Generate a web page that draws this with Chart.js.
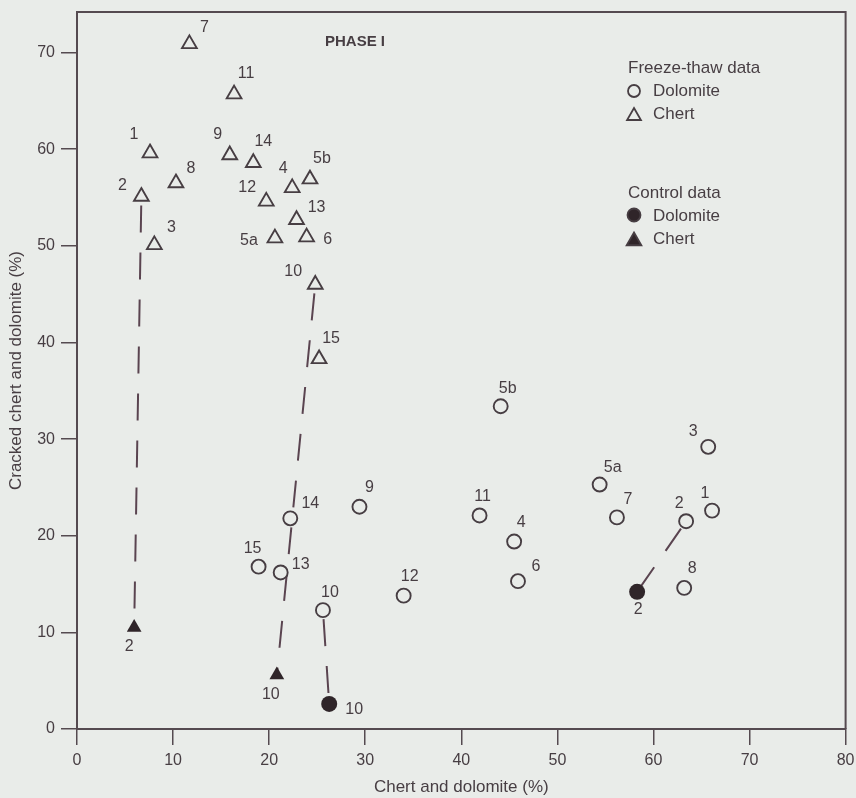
<!DOCTYPE html>
<html>
<head>
<script src="https://cdn.jsdelivr.net/npm/chart.js@4.4.0/dist/chart.umd.min.js"></script>
<style>
    body {
        margin: 0;
        background: #e9ece9;
    }
    .chart-box {
        position: relative;
        width: 856px;
        height: 798px;
    }
</style>
</head>
<body>
<div class="chart-box"><canvas id="phaseChart"></canvas></div>
<script>
// freeze-thaw data, dolomite (open circles)
const dolomiteLabels = ['1', '2', '3', '4', '5a', '5b', '6', '7', '8', '9', '10', '11', '12', '13', '14', '15'];
const dolomiteX = [66.1, 63.4, 65.7, 45.5, 54.4, 44.1, 45.9, 56.2, 63.2, 29.4, 25.6, 41.9, 34.0, 21.2, 22.2, 18.9];
const dolomiteY = [22.6, 21.5, 29.2, 19.4, 25.3, 33.4, 15.3, 21.9, 14.6, 23.0, 12.3, 22.1, 13.8, 16.2, 21.8, 16.8];

// freeze-thaw data, chert (open triangles)
const chertLabels = ['1', '2', '3', '4', '5a', '5b', '6', '7', '8', '9', '10', '11', '12', '13', '14', '15'];
const chertX = [7.6, 6.7, 8.05, 22.4, 20.6, 24.25, 23.9, 11.7, 10.3, 15.9, 24.8, 16.35, 19.7, 22.85, 18.35, 25.2];
const chertY = [59.6, 55.1, 50.1, 56.0, 50.8, 56.9, 50.9, 70.9, 56.5, 59.4, 46.0, 65.7, 54.6, 52.7, 58.6, 38.3];

// control data
const ctrlDolomiteLabels = ['2', '10'];
const ctrlDolomiteX = [58.3, 26.25];
const ctrlDolomiteY = [14.2, 2.6];
const ctrlChertLabels = ['2', '10'];
const ctrlChertX = [5.95, 20.8];
const ctrlChertY = [10.5, 5.6];

// axes
const xTicks = [0, 10, 20, 30, 40, 50, 60, 70, 80];
const yTicks = [0, 10, 20, 30, 40, 50, 60, 70];

// label placement (pixels from the marker)
const dolomiteLabelPos = [[-7, -17], [-7, -18], [-15, -15], [7, -19], [13, -17], [7, -18], [18, -15], [11, -18],
    [8, -19], [10, -19], [7, -18], [3, -19], [6, -19], [20, -8], [20, -15], [-6, -18]];
const chertLabelPos = [[-16, -18], [-19, -11], [17, -17], [-9, -19], [-26, 2], [12, -21], [21, 2], [15, -16],
    [15, -14], [-12, -20], [-22, -13], [12, -21], [-19, -14], [20, -12], [10, -21], [12, -20]];
const ctrlDolomiteLabelPos = [[1, 18], [25, 6]];
const ctrlChertLabelPos = [[-5, 19], [-6, 20]];

const BG = '#e9ece9';
const INK = '#473e43';
const LINE = '#5a4450';
const FONT = "'Liberation Sans', Arial, sans-serif";

const toPoints = (xs, ys) => xs.map((x, i) => ({ x: x, y: ys[i] }));

// dashed links from each freeze-thaw sample to its control sample
function linkDatasets() {
    const links = [];
    ctrlChertLabels.forEach((lab, i) => {
        const j = chertLabels.indexOf(lab);
        links.push([{ x: chertX[j], y: chertY[j] }, { x: ctrlChertX[i], y: ctrlChertY[i] }]);
    });
    ctrlDolomiteLabels.forEach((lab, i) => {
        const j = dolomiteLabels.indexOf(lab);
        links.push([{ x: dolomiteX[j], y: dolomiteY[j] }, { x: ctrlDolomiteX[i], y: ctrlDolomiteY[i] }]);
    });
    return links.map(pts => ({
        type: 'line',
        data: pts,
        showLine: true,
        borderColor: LINE,
        borderWidth: 2,
        borderDash: [27, 20],
        borderDashOffset: 38,
        pointRadius: 0,
        order: 10
    }));
}

const pointLabels = {
    id: 'pointLabels',
    afterDatasetsDraw(chart) {
        const ctx = chart.ctx;
        ctx.save();
        ctx.font = '16px ' + FONT;
        ctx.fillStyle = INK;
        ctx.textAlign = 'center';
        ctx.textBaseline = 'middle';
        chart.data.datasets.forEach((ds, di) => {
            if (!ds.labels) return;
            const meta = chart.getDatasetMeta(di);
            meta.data.forEach((el, i) => {
                const off = ds.labelPos[i];
                ctx.fillText(ds.labels[i], el.x + off[0], el.y + off[1]);
            });
        });
        ctx.restore();
    }
};

const frameAndKey = {
    id: 'frameAndKey',
    afterDraw(chart) {
        const ctx = chart.ctx;
        const a = chart.chartArea;
        ctx.save();
        // top and right sides of the box
        ctx.strokeStyle = '#554a50';
        ctx.lineWidth = 2;
        ctx.beginPath();
        ctx.moveTo(a.left, a.top);
        ctx.lineTo(a.right, a.top);
        ctx.lineTo(a.right, a.bottom);
        ctx.stroke();

        ctx.fillStyle = INK;
        ctx.textBaseline = 'middle';
        ctx.font = 'bold 15px ' + FONT;
        ctx.textAlign = 'center';
        ctx.fillText('PHASE I', 355, 42);

        ctx.textAlign = 'left';
        ctx.font = '17px ' + FONT;
        ctx.fillText('Freeze-thaw data', 628, 68);
        ctx.fillText('Dolomite', 653, 91);
        ctx.fillText('Chert', 653, 114);
        ctx.fillText('Control data', 628, 193);
        ctx.fillText('Dolomite', 653, 216);
        ctx.fillText('Chert', 653, 239);

        const key = [
            ['circle', 6, 91, false], ['triangle', 8, 114, false],
            ['circle', 6.5, 215, true], ['triangle', 8.5, 239, true]
        ];
        key.forEach(k => {
            ctx.lineWidth = 1.8;
            ctx.strokeStyle = INK;
            ctx.fillStyle = k[3] ? '#2f2529' : BG;
            Chart.helpers.drawPoint(ctx, { pointStyle: k[0], radius: k[1], rotation: 0, borderWidth: 1.8 }, 634, k[2] + (k[0] === 'triangle' ? 2 : 0));
        });
        ctx.restore();
    }
};

new Chart(document.getElementById('phaseChart'), {
    type: 'scatter',
    data: {
        datasets: [
            {
                data: toPoints(dolomiteX, dolomiteY),
                labels: dolomiteLabels,
                labelPos: dolomiteLabelPos,
                pointStyle: 'circle',
                pointRadius: 7,
                borderWidth: 1.9,
                borderColor: INK,
                backgroundColor: BG,
                order: 1
            },
            {
                data: toPoints(chertX, chertY),
                labels: chertLabels,
                labelPos: chertLabelPos,
                pointStyle: 'triangle',
                pointRadius: 8.5,
                borderWidth: 1.9,
                borderColor: INK,
                backgroundColor: BG,
                order: 1
            },
            {
                data: toPoints(ctrlDolomiteX, ctrlDolomiteY),
                labels: ctrlDolomiteLabels,
                labelPos: ctrlDolomiteLabelPos,
                pointStyle: 'circle',
                pointRadius: 8,
                borderWidth: 0,
                backgroundColor: '#2f2529',
                order: 0
            },
            {
                data: toPoints(ctrlChertX, ctrlChertY),
                labels: ctrlChertLabels,
                labelPos: ctrlChertLabelPos,
                pointStyle: 'triangle',
                pointRadius: 8.5,
                borderWidth: 0,
                backgroundColor: '#2f2529',
                order: 0
            },
            ...linkDatasets()
        ]
    },
    options: {
        responsive: true,
        maintainAspectRatio: false,
        animation: false,
        layout: { padding: { top: 12, right: 10, left: 0, bottom: 0 } },
        plugins: {
            legend: { display: false },
            tooltip: { enabled: false }
        },
        scales: {
            x: {
                type: 'linear',
                min: 0,
                max: 80,
                afterBuildTicks: s => { s.ticks = xTicks.map(v => ({ value: v })); },
                afterFit: s => { s.height = 69; s.paddingLeft = 0; s.paddingRight = 0; },
                ticks: { color: INK, font: { family: FONT, size: 16 }, padding: 6, maxRotation: 0 },
                grid: { drawOnChartArea: false, drawTicks: true, tickLength: 16, color: '#554a50', lineWidth: 1.5 },
                border: { display: true, color: '#554a50', width: 2 },
                title: {
                    display: true,
                    text: 'Chert and dolomite (%)',
                    color: INK,
                    font: { family: FONT, size: 17 },
                    padding: { top: 2, bottom: 0 }
                }
            },
            y: {
                type: 'linear',
                min: 0,
                max: 74.2,
                afterBuildTicks: s => { s.ticks = yTicks.map(v => ({ value: v })); },
                afterFit: s => { s.width = 77; s.paddingTop = 0; s.paddingBottom = 0; },
                ticks: { color: INK, font: { family: FONT, size: 16 }, padding: 6 },
                grid: { drawOnChartArea: false, drawTicks: true, tickLength: 16, color: '#554a50', lineWidth: 1.5 },
                border: { display: true, color: '#554a50', width: 2 },
                title: {
                    display: true,
                    text: 'Cracked chert and dolomite (%)',
                    color: INK,
                    font: { family: FONT, size: 17 },
                    padding: { top: 6, bottom: 0 }
                }
            }
        }
    },
    plugins: [pointLabels, frameAndKey]
});
</script>
</body>
</html>
